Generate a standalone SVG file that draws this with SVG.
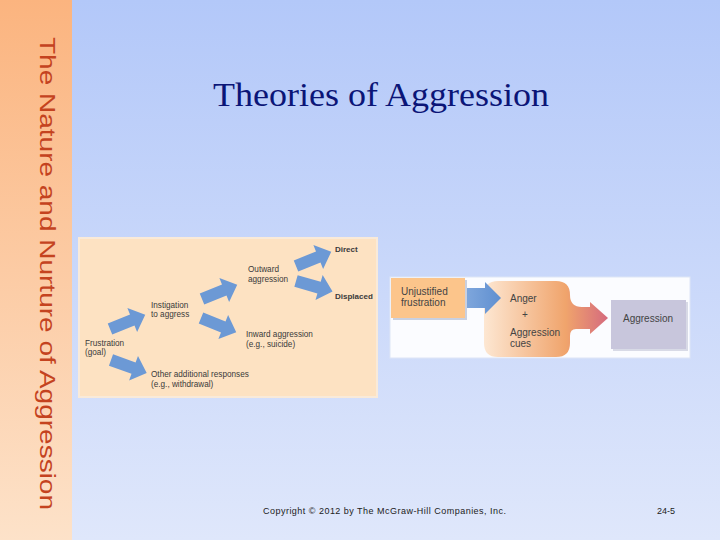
<svg xmlns="http://www.w3.org/2000/svg" width="720" height="540" viewBox="0 0 720 540">
<defs>
<linearGradient id="bg" x1="0" y1="0" x2="0" y2="1">
<stop offset="0" stop-color="#b3c8f9"/>
<stop offset="1" stop-color="#dfe7fb"/>
</linearGradient>
<linearGradient id="side" x1="0" y1="0" x2="0" y2="1">
<stop offset="0" stop-color="#fbb47f"/>
<stop offset="1" stop-color="#fde2c9"/>
</linearGradient>
<linearGradient id="big" x1="484" y1="0" x2="608" y2="0" gradientUnits="userSpaceOnUse">
<stop offset="0" stop-color="#fde7d2"/>
<stop offset="0.66" stop-color="#f0a46c"/>
<stop offset="1" stop-color="#d56a7e"/>
</linearGradient>
<linearGradient id="blu" x1="0" y1="0" x2="1" y2="0">
<stop offset="0" stop-color="#7ea6dc"/>
<stop offset="1" stop-color="#5f8fd0"/>
</linearGradient>
<path id="arr" d="M0,-6 L24,-6 L24,-13 L38,0 L24,13 L24,6 L0,6 Z"/>
<style>
.lt{font-family:"Liberation Sans",Arial,sans-serif;font-size:8.2px;fill:#3a3a3a}
.ltb{font-family:"Liberation Sans",Arial,sans-serif;font-size:8px;font-weight:bold;fill:#3a3a3a}
.rt{font-family:"Liberation Sans",Arial,sans-serif;font-size:10px;fill:#444}
.ft{font-family:"Liberation Sans",Arial,sans-serif;font-size:9px;fill:#222}
.ba{fill:#6c99d5}
</style>
</defs>
<rect x="0" y="0" width="720" height="540" fill="url(#bg)"/>
<rect x="0" y="0" width="72" height="540" fill="url(#side)"/>
<text transform="translate(39.5,37) rotate(90)" font-family="'Liberation Sans',Arial,sans-serif" font-size="21.5" fill="#c4431f" textLength="473" lengthAdjust="spacingAndGlyphs">The Nature and Nurture of Aggression</text>
<text x="213" y="106" font-family="'Liberation Serif','Times New Roman',serif" font-size="33" fill="#0b1577" textLength="336" lengthAdjust="spacingAndGlyphs">Theories of Aggression</text>

<g id="panel-left">
<rect x="78" y="237" width="300" height="161" fill="#f9ead9"/>
<rect x="80" y="239" width="296" height="157" fill="#fde2c2"/>
</g>
<g id="connectors-left">
<use href="#arr" class="ba" transform="translate(110,329) rotate(-22)"/>
<use href="#arr" class="ba" transform="translate(111,360) rotate(20)"/>
<use href="#arr" class="ba" transform="translate(202,299) rotate(-22)"/>
<use href="#arr" class="ba" transform="translate(201,318) rotate(22)"/>
<use href="#arr" class="ba" transform="translate(296,266) rotate(-22)"/>
<use href="#arr" class="ba" transform="translate(296,281) rotate(16)"/>
</g>
<g id="frustration"><text class="lt" x="85" y="346">Frustration</text><text class="lt" x="85" y="355">(goal)</text></g>
<g id="instigation"><text class="lt" x="151" y="308">Instigation</text><text class="lt" x="151" y="317">to aggress</text></g>
<g id="outward"><text class="lt" x="248" y="272">Outward</text><text class="lt" x="248" y="282">aggression</text></g>
<g id="inward"><text class="lt" x="246" y="337">Inward aggression</text><text class="lt" x="246" y="347">(e.g., suicide)</text></g>
<g id="other"><text class="lt" x="151" y="377">Other additional responses</text><text class="lt" x="151" y="387">(e.g., withdrawal)</text></g>
<g id="direct"><text class="ltb" x="335" y="252">Direct</text></g>
<g id="displaced"><text class="ltb" x="335" y="299">Displaced</text></g>

<g id="panel-right">
<rect x="390" y="277" width="300" height="81" fill="#fbfcff" stroke="#dde5f6" stroke-width="1"/>
</g>
<g id="unjustified">
<rect x="393" y="280" width="74" height="40" fill="#c9d0e0"/>
<rect x="391" y="278" width="74" height="40" fill="#fcc58b"/>
<text class="rt" x="401" y="295">Unjustified</text>
<text class="rt" x="401" y="306">frustration</text>
</g>
<g id="anger">
<path d="M498,281 H556 Q570,281 570,295 Q570,307 582,307 H590 V302 L608,318 L590,334 V329 H576 Q570,329 570,336 V343 Q570,357 556,357 H498 Q484,357 484,343 V295 Q484,281 498,281 Z" fill="url(#big)"/>
<text class="rt" x="510" y="302">Anger</text>
<text class="rt" x="522" y="318">+</text>
<text class="rt" x="510" y="336">Aggression</text>
<text class="rt" x="510" y="347">cues</text>
</g>
<g id="connectors-right">
<path d="M467,288 H485 V282 L501,298 L485,314 V308 H467 Z" fill="url(#blu)"/>
</g>
<g id="aggression">
<rect x="613" y="302" width="75" height="49" fill="#d8dae6"/>
<rect x="611" y="300" width="75" height="49" fill="#c8c6dc"/>
<text class="rt" x="623" y="322">Aggression</text>
</g>

<text class="ft" x="263" y="514" textLength="243" lengthAdjust="spacing">Copyright © 2012 by The McGraw-Hill Companies, Inc.</text>
<text class="ft" x="657" y="514">24-5</text>
</svg>
